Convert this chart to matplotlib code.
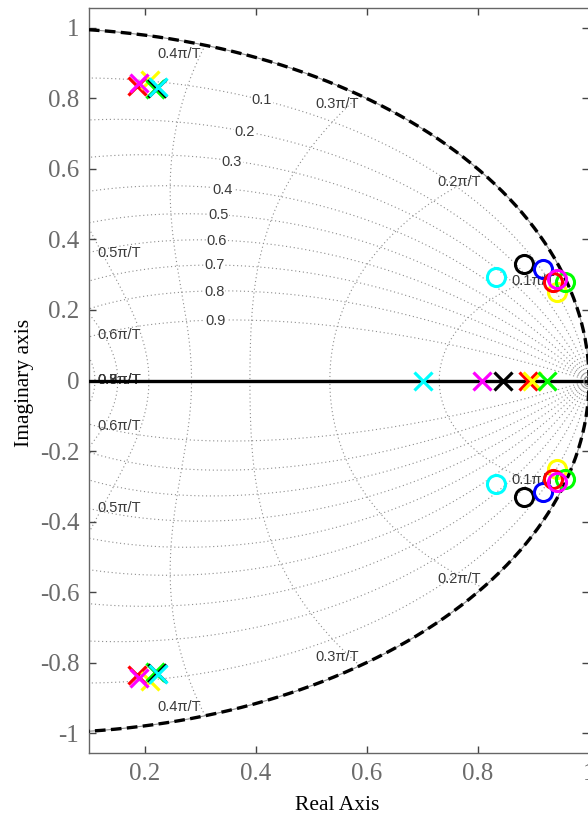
import numpy as np
import matplotlib
matplotlib.use('Agg')
import matplotlib.pyplot as plt

plt.rcParams['axes.unicode_minus'] = False

# pole / zero locations (upper half, conjugates mirrored below)
pole_re_cplx = [0.187, 0.210, 0.190, 0.218, 0.222, 0.224]
pole_im_cplx = [0.836, 0.852, 0.845, 0.828, 0.830, 0.832]
pole_re_real = [0.890, 0.897, 0.807, 0.924, 0.845, 0.701]
pole_colors = ['red', 'yellow', 'magenta', '#00ff00', 'black', 'cyan']

zero_re = [0.832, 0.883, 0.917, 0.943, 0.957, 0.936, 0.942]
zero_im = [0.295, 0.331, 0.315, 0.250, 0.280, 0.280, 0.288]
zero_colors = ['cyan', 'black', 'blue', 'yellow', '#00ff00', 'red', 'magenta']

# zgrid
zetas = [0.1, 0.2, 0.3, 0.4, 0.5, 0.6, 0.7, 0.8, 0.9]
wn_fracs = [0.1, 0.2, 0.3, 0.4, 0.5, 0.6, 0.7, 0.8, 0.9, 1.0]

# label spots for the grid annotations
zeta_lbl_x = [0.411, 0.380, 0.357, 0.341, 0.333, 0.330, 0.326, 0.326, 0.328]
zeta_lbl_y = [0.796, 0.705, 0.620, 0.540, 0.469, 0.396, 0.328, 0.251, 0.169]
wn_lbl_text = ['0.1', '0.2', '0.3', '0.4', '0.5', '0.6', '0.7', '0.8', '0.9']
wn_lbl_x = [0.900, 0.766, 0.546, 0.263, 0.155, 0.155, 0.155, 0.155, 0.155]
wn_lbl_y = [0.283, 0.562, 0.785, 0.926, 0.362, 0.129, 0.000, 0.000, 0.000]

fig = plt.figure(figsize=(5.88, 8.16), dpi=100)
ax = fig.add_axes([89 / 588, 63 / 816, 500 / 588, 745 / 816])

grid_kw = dict(color='#8c8c8c', lw=0.8, ls=(0, (1, 2.5)), zorder=1)
for z in zetas:
    w = np.linspace(0, np.pi / np.sqrt(1 - z**2), 400)
    s = np.exp(w * (-z + 1j * np.sqrt(1 - z**2)))
    ax.plot(s.real, s.imag, **grid_kw)
    ax.plot(s.real, -s.imag, **grid_kw)
for f in wn_fracs:
    zz = np.linspace(0, 1, 300)
    s = np.exp(f * np.pi * (-zz + 1j * np.sqrt(1 - zz**2)))
    ax.plot(s.real, s.imag, **grid_kw)
    ax.plot(s.real, -s.imag, **grid_kw)

th = np.linspace(0, 2 * np.pi, 800)
ax.plot(np.cos(th), np.sin(th), color='#8c8c8c', lw=0.8, zorder=1)

lbl_kw = dict(fontsize=10.5, family=['Liberation Sans', 'DejaVu Sans'], color='#3a3a3a',
              ha='center', va='center', zorder=2)
for z, x, y in zip(zetas, zeta_lbl_x, zeta_lbl_y):
    ax.text(x, y, '%g' % z, bbox=dict(fc='white', ec='none', pad=0.5), **lbl_kw)
for t, x, y in zip(wn_lbl_text, wn_lbl_x, wn_lbl_y):
    ax.text(x, y, t + 'π/T', **lbl_kw)
    if y != 0:
        ax.text(x, -y, t + 'π/T', **lbl_kw)

# unit circle and real axis
ax.plot(np.cos(th), np.sin(th), color='black', lw=2.4, dashes=(3.2, 1.6), zorder=3)
ax.axhline(0, color='black', lw=2.4, zorder=3)
ax.plot([1.0], [0.0], 'o', ms=8, mfc='none', mec='#999999', mew=0.8, zorder=3)

# zeros
for x, y, c in zip(zero_re, zero_im, zero_colors):
    ax.plot([x, x], [y, -y], 'o', ms=13, mfc='none', mec=c, mew=2.2, ls='none', zorder=4)

# poles
for x, y, c in zip(pole_re_cplx, pole_im_cplx, pole_colors):
    ax.plot([x, x], [y, -y], 'x', ms=13, mec=c, mew=2.3, ls='none', zorder=5)
for x, c in zip(pole_re_real, pole_colors):
    ax.plot([x], [0], 'x', ms=13, mec=c, mew=2.3, ls='none', zorder=5)

ax.set_xlim(0.1, 1.0)
ax.set_ylim(-1.0567, 1.0567)
ax.set_xticks([0.2, 0.4, 0.6, 0.8, 1.0])
ax.set_xticklabels(['0.2', '0.4', '0.6', '0.8', '1'])
yt = [1, 0.8, 0.6, 0.4, 0.2, 0, -0.2, -0.4, -0.6, -0.8, -1]
ax.set_yticks(yt)
ax.set_yticklabels(['%g' % v for v in yt])

for sp in ax.spines.values():
    sp.set_color('#666666')
    sp.set_linewidth(1.0)
ax.tick_params(direction='in', length=5, width=1, color='#444444', labelcolor='#6b6b6b',
               labelsize=18, top=True, right=True, pad=7)
for lab in ax.get_xticklabels() + ax.get_yticklabels():
    lab.set_family('Liberation Serif')

ax.set_xlabel('Real Axis', family='Liberation Serif', fontsize=15.5, color='black')
ax.xaxis.set_label_coords(0.496, -0.07)
ax.xaxis.label.set_va('center')
ax.set_ylabel('Imaginary axis', family='Liberation Serif', fontsize=15.5, color='black')
ax.yaxis.set_label_coords(-0.13, 0.497)
ax.yaxis.label.set_va('center')

fig.savefig('out.png', dpi=100)
